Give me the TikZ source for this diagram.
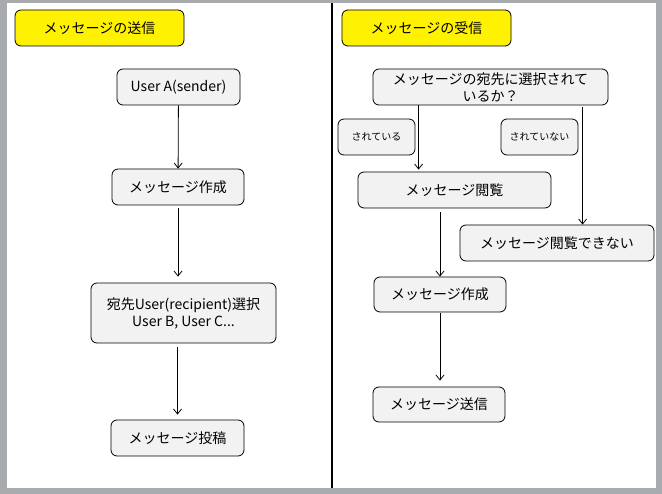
\documentclass[tikz,border=0pt]{standalone}
\usepackage{fontspec}
\setmainfont{Noto Sans CJK JP}
\usetikzlibrary{positioning,arrows.meta}
\definecolor{boxgray}{HTML}{F2F2F2}
\definecolor{framegray}{HTML}{A8ABAE}

\begin{document}
\begin{tikzpicture}[x=1pt,y=-1pt,>={Straight Barb[length=5pt,width=8pt]},block/.style={draw,rectangle,rounded corners=6pt,fill=boxgray,line width=0.8pt,minimum height=36pt,inner sep=2pt,align=center,font=\fontsize{14}{17}\selectfont},title/.style={block,fill=yellow,minimum width=169pt},tag/.style={block,minimum width=77pt,font=\fontsize{10}{12}\selectfont},arrow/.style={draw=black, ->, line width=0.8pt}]
  \fill[framegray] (0,0) rectangle (662,494);
  \fill[white] (7,3) rectangle (656,488);
  \draw[line width=1.2pt] (332,3) -- (332,488);

  % sending side
  \node[title] (sendtitle) at (99.5,28) {メッセージの送信};
  \node[block,minimum width=123pt] (sender) at (178.5,87) {User A(sender)};
  \node[block,minimum width=132pt] (create) at (178,187) {メッセージ作成};
  \node[block,minimum width=185pt,minimum height=60pt] (select) at (183.5,313) {宛先User(recipient)選択\\User B, User C...};
  \node[block,minimum width=133pt] (post) at (177.5,438) {メッセージ投稿};

  \draw[arrow] (sender) -- (create);
  \draw[arrow, shorten <=3pt, shorten >=6pt] (create) -- (create |- select.north);
  \draw[arrow, shorten <=4pt, shorten >=5pt] (post.north |- select.south) -- (post);

  % receiving side
  \node[title] (recvtitle) at (426.5,28) {メッセージの受信};
  \node[block,minimum width=235pt] (ask) at (490.5,87) {メッセージの宛先に選択されて\\いるか？};
  \node[tag] (yes) at (376.5,137) {されている};
  \node[tag] (no) at (539.5,137) {されていない};
  \node[block,minimum width=193pt] (view) at (454.5,190) {メッセージ閲覧};
  \node[block,minimum width=194pt] (cantview) at (557,243) {メッセージ閲覧できない};
  \node[block,minimum width=132pt,minimum height=35pt] (recreate) at (440,294.5) {メッセージ作成};
  \node[block,minimum width=132pt,minimum height=35pt] (resend) at (439,404.5) {メッセージ送信};

  \coordinate (yesfrom) at ([xshift=46pt]ask.south west);
  \coordinate (nofrom) at ([xshift=210pt]ask.south west);
  \draw[arrow, shorten >=2pt] (yesfrom) -- (yesfrom |- view.north);
  \draw[arrow, shorten <=2pt] (nofrom) -- (nofrom |- cantview.north);
  \draw[arrow, shorten <=4pt] (recreate.north |- view.south) -- (recreate);
  \draw[arrow, shorten <=1pt, shorten >=6pt] (recreate.south) -- (recreate.south |- resend.north);
\end{tikzpicture}
\end{document}
